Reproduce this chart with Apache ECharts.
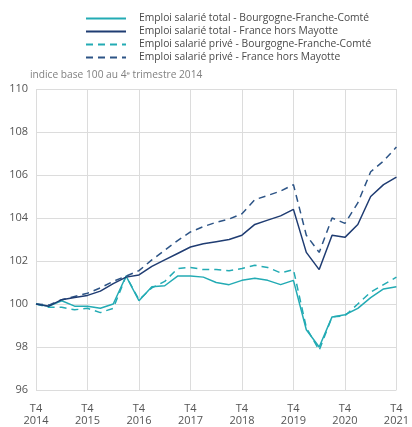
<!DOCTYPE html>
<html>
<head>
<meta charset="utf-8">
<script src="https://cdn.jsdelivr.net/npm/echarts@6/dist/echarts.min.js"></script>
<style>
  html, body { margin: 0; padding: 0; background: #fff; }
  #chart { width: 412px; height: 427px; }
</style>
</head>
<body>
<div id="chart"></div>
<script>
// quarters T4 2014 .. T4 2021
const quarters = [];
for (let y = 2014; y <= 2021; y++) {
  for (let q = 1; q <= 4; q++) {
    if (y === 2014 && q < 4) continue;
    quarters.push('T' + q + ' ' + y);
  }
}

const totalBFC = [100, 99.9, 100.15, 99.9, 99.9, 99.8, 100.0, 101.3, 100.15, 100.8, 100.85, 101.3, 101.3,
  101.25, 101.0, 100.9, 101.1, 101.2, 101.1, 100.9, 101.1, 98.8, 98.0, 99.4, 99.5, 99.8, 100.3, 100.7, 100.8];
const totalFrance = [100, 99.9, 100.2, 100.3, 100.4, 100.6, 100.95, 101.25, 101.35, 101.75, 102.05, 102.35, 102.65,
  102.8, 102.9, 103.0, 103.2, 103.7, 103.9, 104.1, 104.4, 102.4, 101.6, 103.2, 103.1, 103.7, 105.0, 105.55, 105.9];
const priveBFC = [100, 99.85, 99.85, 99.73, 99.8, 99.6, 99.8, 101.3, 100.2, 100.75, 101.05, 101.65, 101.7,
  101.6, 101.6, 101.55, 101.65, 101.8, 101.7, 101.45, 101.6, 98.9, 97.85, 99.4, 99.45, 100.0, 100.55, 100.9, 101.25];
const priveFrance = [100, 99.95, 100.2, 100.35, 100.5, 100.75, 101.05, 101.3, 101.55, 102.05, 102.5, 102.95, 103.35,
  103.6, 103.8, 103.95, 104.2, 104.85, 105.05, 105.25, 105.55, 103.2, 102.4, 104.0, 103.75, 104.7, 106.15, 106.65, 107.3];

const names = [
  'Emploi salarié total - Bourgogne-Franche-Comté',
  'Emploi salarié total - France hors Mayotte',
  'Emploi salarié privé - Bourgogne-Franche-Comté',
  'Emploi salarié privé - France hors Mayotte'
];

const TEAL = '#23abb4';
const NAVY = '#1f3c72';
const NAVY_DASH = '#2d5486';
const FONT = '"Open Sans", sans-serif';

function line(name, data, color, dashed) {
  return {
    name: name, type: 'line', data: data, symbol: 'none', smooth: false,
    lineStyle: { color: color, width: 1.5, type: dashed ? [7, 5] : 'solid' },
    itemStyle: { color: color },
    z: dashed ? 2 : 3
  };
}

let chart = echarts.init(document.getElementById('chart'));
chart.setOption({
  animation: false,
  textStyle: { fontFamily: FONT },
  title: {
    text: '{a|indice base 100 au 4}{s|e}{a| trimestre 2014}',
    left: 25, top: 65,
    textStyle: {
      rich: {
        a: { fontSize: 10.2, color: '#808080', fontFamily: FONT, fontWeight: 'normal' },
        s: { fontSize: 6, color: '#808080', fontFamily: FONT, fontWeight: 'normal', verticalAlign: 'top', padding: [0, 0, 4, 0] }
      }
    }
  },
  legend: {
    orient: 'vertical', left: 80, top: 7,
    itemWidth: 40, itemHeight: 10, itemGap: 0,
    itemStyle: { opacity: 0 },
    textStyle: { fontSize: 10.3, lineHeight: 13, color: '#4a4a4a', fontFamily: FONT, padding: [0, 0, 0, 8] },
    data: names
  },
  grid: { left: 36, right: 14, top: 89, bottom: 31, containLabel: false },
  xAxis: {
    type: 'category', data: quarters, boundaryGap: false,
    axisLine: { show: false }, axisTick: { show: false },
    axisLabel: {
      interval: 3, color: '#555', fontSize: 11, margin: 13, lineHeight: 12,
      formatter: v => v.replace(' ', '\n')
    },
    splitLine: { show: true, interval: 3, lineStyle: { color: '#dcdcdc', width: 1 } }
  },
  yAxis: {
    type: 'value', min: 96, max: 110, interval: 2,
    axisLine: { show: false }, axisTick: { show: false },
    axisLabel: { color: '#555', fontSize: 11, margin: 8 },
    splitLine: { lineStyle: { color: '#dcdcdc', width: 1 } }
  },
  series: [
    line(names[0], totalBFC, TEAL, false),
    line(names[1], totalFrance, NAVY, false),
    line(names[2], priveBFC, TEAL, true),
    line(names[3], priveFrance, NAVY_DASH, true)
  ]
});
</script>
</body>
</html>
